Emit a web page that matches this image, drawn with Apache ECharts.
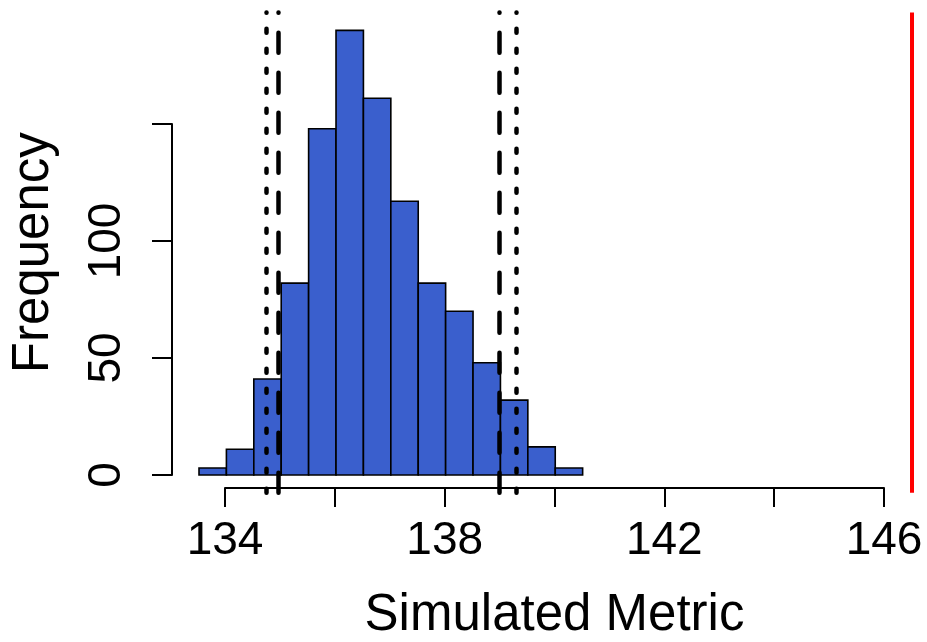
<!DOCTYPE html>
<html>
<head>
<meta charset="utf-8">
<script src="https://cdn.jsdelivr.net/npm/echarts@6/dist/echarts.min.js"></script>
<style>
html,body{margin:0;padding:0;background:#fff;}
#chart{width:927px;height:642px;}
</style>
</head>
<body>
<div id="chart"></div>
<script>
// ---- data ----
const binStarts = [133.5, 134, 134.5, 135, 135.5, 136, 136.5, 137, 137.5, 138, 138.5, 139, 139.5, 140];
const binWidth = 0.5;
const counts = [3, 11, 41, 82, 148, 190, 161, 117, 82, 70, 48, 32, 12, 3];
const xTickLabels = [134, 138, 142, 146];
const yTickLabels = [0, 50, 100];
const dottedLines = [134.72, 139.29];
const dashedLines = [134.95, 138.98];
const observedLine = [146.51];
const xTitle = 'Simulated Metric';
const yTitle = 'Frequency';

// ---- layout (pixel geometry of the R-style plot) ----
const FONT = 'Liberation Sans, Arial, Helvetica, sans-serif';
const xPx134 = 225, xPx146 = 884;           // axis span in pixels
const kx = (xPx146 - xPx134) / 12;          // px per unit
const yPx0 = 475, yPx150 = 124;
const ky = (yPx0 - yPx150) / 150;
const mainXMin = 133.5, mainXMax = 146.75;
const mainYMin = -7.6, mainYMax = 197.6;
const mainLeft = xPx134 + (mainXMin - 134) * kx;
const mainWidth = (mainXMax - mainXMin) * kx;
const mainTop = yPx0 - mainYMax * ky;
const mainHeight = (mainYMax - mainYMin) * ky;
const mainBottomPx = mainTop + mainHeight;

const chart = echarts.init(document.getElementById('chart'), null, {renderer: 'canvas'});

const markData = [];
dottedLines.forEach(v => markData.push({xAxis: v, lineStyle: {color: '#000', width: 4.5, type: [4, 16], cap: 'round'}}));
dashedLines.forEach(v => markData.push({xAxis: v, lineStyle: {color: '#000', width: 4.5, type: [20, 20], cap: 'round'}}));
observedLine.forEach(v => markData.push({xAxis: v, lineStyle: {color: '#FF0000', width: 4, type: 'solid'}}));

const option = {
  animation: false,
  backgroundColor: '#ffffff',
  textStyle: {fontFamily: FONT},
  grid: [
    {left: mainLeft, top: mainTop, width: mainWidth, height: mainHeight},
    {left: xPx134, top: mainBottomPx - 50, width: xPx146 - xPx134, height: 50},
    {left: 172, top: yPx150, width: 100, height: yPx0 - yPx150}
  ],
  xAxis: [
    {gridIndex: 0, type: 'value', min: mainXMin, max: mainXMax, show: false},
    {gridIndex: 1, type: 'value', min: 134, max: 146, interval: 2,
      axisLine: {show: true, onZero: false, lineStyle: {color: '#000', width: 2}},
      axisTick: {show: true, length: 19, lineStyle: {color: '#000', width: 2}},
      splitLine: {show: false},
      axisLabel: {show: true, color: '#000', fontSize: 46, fontFamily: FONT, margin: 30,
        formatter: v => (xTickLabels.indexOf(v) >= 0 ? String(v) : '')},
      name: xTitle, nameLocation: 'middle', nameGap: 102,
      nameTextStyle: {color: '#000', fontSize: 51, fontFamily: FONT}
    },
    {gridIndex: 2, type: 'value', min: 0, max: 1, show: false}
  ],
  yAxis: [
    {gridIndex: 0, type: 'value', min: mainYMin, max: mainYMax,
      axisLine: {show: false}, axisTick: {show: false}, axisLabel: {show: false}, splitLine: {show: false},
      name: yTitle, nameLocation: 'middle', nameGap: 140,
      nameTextStyle: {color: '#000', fontSize: 51, fontFamily: FONT}
    },
    {gridIndex: 1, type: 'value', min: 0, max: 1, show: false},
    {gridIndex: 2, type: 'value', min: 0, max: 150, interval: 50,
      axisLine: {show: true, onZero: false, lineStyle: {color: '#000', width: 2}},
      axisTick: {show: true, length: 20, lineStyle: {color: '#000', width: 2}},
      splitLine: {show: false},
      axisLabel: {show: true, color: '#000', fontSize: 46, fontFamily: FONT, margin: 42, rotate: 90,
        formatter: v => (yTickLabels.indexOf(v) >= 0 ? String(v) : '')}
    }
  ],
  series: [
    {
      type: 'custom',
      xAxisIndex: 0, yAxisIndex: 0,
      data: binStarts.map((s, i) => [s, s + binWidth, counts[i]]),
      encode: {x: [0, 1], y: 2},
      renderItem: function (params, api) {
        const p0 = api.coord([api.value(0), 0]);
        const p1 = api.coord([api.value(1), api.value(2)]);
        return {
          type: 'rect',
          shape: {x: p0[0], y: p1[1], width: p1[0] - p0[0], height: p0[1] - p1[1]},
          style: {fill: '#3A5FCD', stroke: '#000', lineWidth: 1.6}
        };
      },
      markLine: {
        silent: true, symbol: 'none', label: {show: false}, z: 10,
        data: markData
      }
    }
  ]
};
chart.setOption(option);
</script>
</body>
</html>
